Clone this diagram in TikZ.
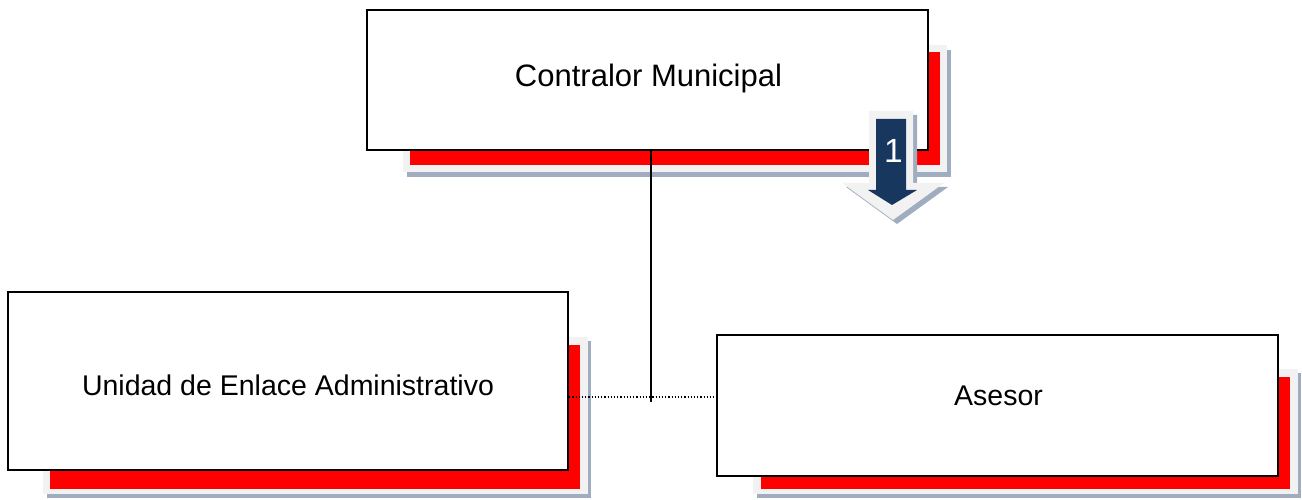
\documentclass[tikz,border=0pt]{standalone}
\usepackage{fontspec}
\setmainfont{Liberation Sans}
\usetikzlibrary{calc}
\definecolor{shred}{RGB}{255,0,0}
\definecolor{shgray}{RGB}{242,242,242}
\definecolor{hatchcol}{RGB}{160,172,192}
\definecolor{navy}{RGB}{23,55,94}
\tikzset{
  orgbox/.style={draw=black, line width=2.2pt, fill=white, inner sep=0pt},
  boxtext/.style={anchor=base, inner sep=0pt, font=\fontsize{28.5}{34}\selectfont},
  hatchfill/.style={fill=hatchcol},
  grayfill/.style={fill=shgray},
  redfill/.style={fill=shred},
  connector/.style={draw=black, line width=1.5pt},
  dotconn/.style={draw=black, line width=1.2pt, dotted},
}
\begin{document}
\begin{tikzpicture}[x=1pt,y=-1pt]
\useasboundingbox (0,0) rectangle (1302,500);
\fill[white] (0,0) rectangle (1302,500);
% top box shadows
\fill[hatchfill] (407,50) rectangle (951,177);
\fill[grayfill] (403,45) rectangle (947,172);
\fill[redfill] (410,52) rectangle (940,165);
% left box shadows
\fill[hatchfill] (47,341) rectangle (591,498);
\fill[grayfill] (43,337) rectangle (588,494);
\fill[redfill] (50,345) rectangle (580,489);
% right box shadows
\fill[hatchfill] (757,373) rectangle (1301,498);
\fill[grayfill] (753,369) rectangle (1298,494);
\fill[redfill] (761,377) rectangle (1290,489);
% connector points
\coordinate (jn) at (651,402);
\coordinate (dl) at (651,397);
% boxes
\node[orgbox, minimum width=561pt, minimum height=140pt] (top) at (647.5,80) {};
\node[orgbox, minimum width=560pt, minimum height=178pt] (left) at (288,381) {};
\node[orgbox, minimum width=561pt, minimum height=141pt] (right) at (997.5,405.5) {};
\node[boxtext, font=\fontsize{31}{36}\selectfont] (toptext) at ($(top.center)+(1,7)$) {Contralor Municipal};
\node[boxtext] (lefttext) at ($(left.center)+(0,14)$) {Unidad de Enlace Administrativo};
\node[boxtext] (righttext) at ($(right.center)+(1,-0.5)$) {Asesor};
\draw[connector] (jn |- top.south) -- (jn);
\draw[dotconn] (dl -| left.east) -- (dl -| right.west);
% arrow
\fill[hatchfill] (873,115) -- (917,115) -- (917,187) -- (948,187) -- (897,224) -- (846,187) -- (873,187) -- cycle;
\fill[grayfill] (869,111) -- (913,111) -- (913,183) -- (944,183) -- (893,220) -- (842,183) -- (869,183) -- cycle;
\fill[navy] (876,119) -- (906,119) -- (906,190) -- (917,190) -- (892,205) -- (868,190) -- (876,190) -- cycle;
\node[text=white, font=\fontsize{33.5}{38}\selectfont, inner sep=0pt, anchor=base] (num) at (893.5,163) {1};
\end{tikzpicture}
\end{document}
